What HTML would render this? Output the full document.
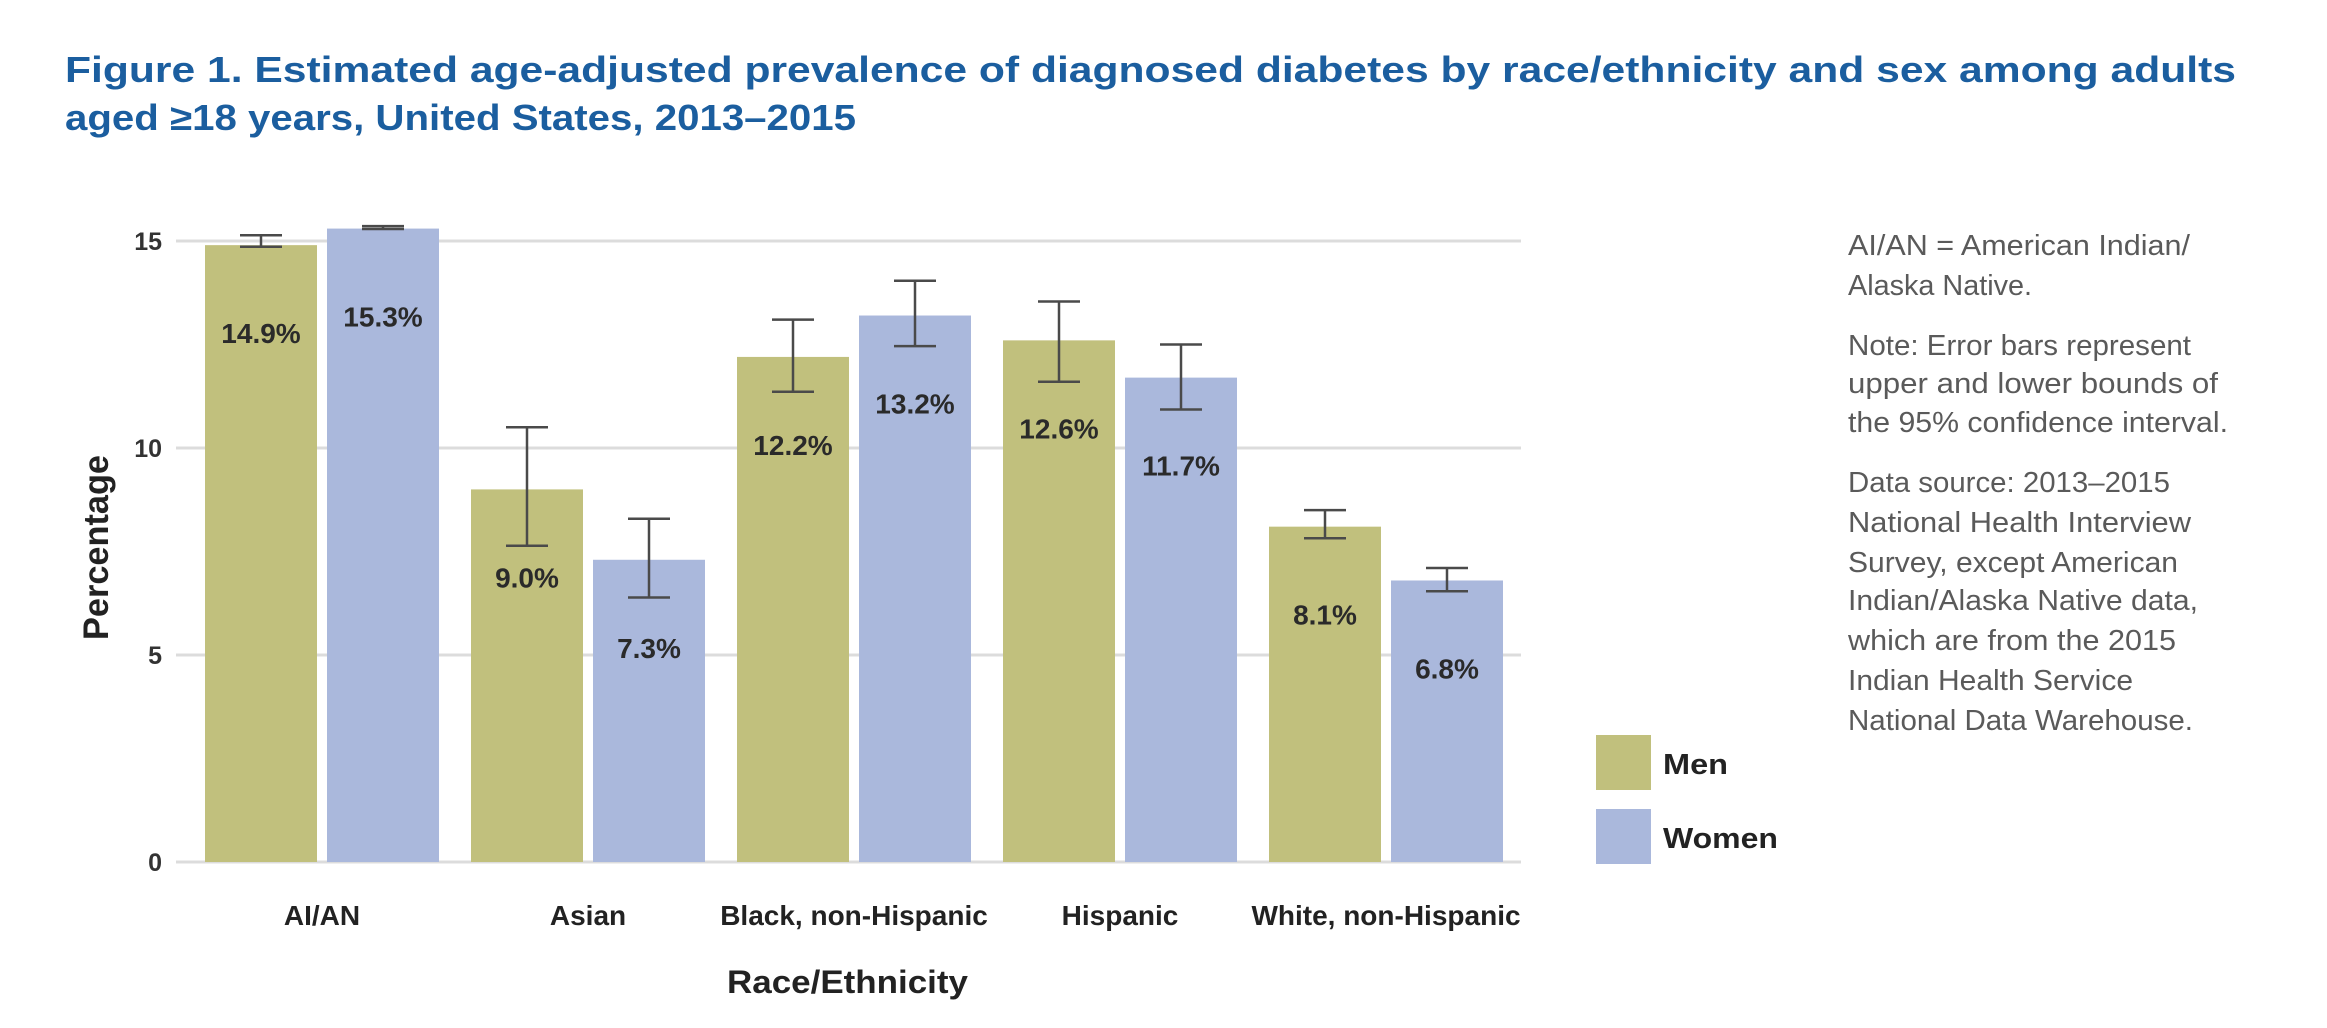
<!DOCTYPE html>
<html>
<head>
<meta charset="utf-8">
<style>
  html,body{margin:0;padding:0;background:#fff;}
  svg{display:block;}
  text{font-family:"Liberation Sans",sans-serif;}
</style>
</head>
<body>
<svg id="chart" width="2327" height="1028" viewBox="0 0 2327 1028" xmlns="http://www.w3.org/2000/svg">
  <g fill="#1b5e9f" font-weight="bold" font-size="36">
    <text x="65" y="82" textLength="2171" lengthAdjust="spacingAndGlyphs">Figure 1. Estimated age-adjusted prevalence of diagnosed diabetes by race/ethnicity and sex among adults</text>
    <text x="65" y="130" textLength="791" lengthAdjust="spacingAndGlyphs">aged ≥18 years, United States, 2013–2015</text>
  </g>
  <g id="grid"></g>
  <g id="yticks"></g>
  <g id="bars"></g>
  <g id="errs"></g>
  <g id="vlabels"></g>
  <g id="xlabels"></g>
  <text transform="translate(108,640) rotate(-90)" font-size="35" font-weight="bold" fill="#222" textLength="185" lengthAdjust="spacingAndGlyphs">Percentage</text>
  <text x="727" y="993" font-size="32" font-weight="bold" fill="#222" textLength="241" lengthAdjust="spacingAndGlyphs">Race/Ethnicity</text>
  <g>
    <rect x="1596" y="735" width="55" height="55" fill="#c1c07d"/>
    <text x="1663" y="774" font-size="29" font-weight="bold" fill="#222" textLength="65" lengthAdjust="spacingAndGlyphs">Men</text>
    <rect x="1596" y="809" width="55" height="55" fill="#aab8dc"/>
    <text x="1663" y="848" font-size="29" font-weight="bold" fill="#222" textLength="115" lengthAdjust="spacingAndGlyphs">Women</text>
  </g>
  <g font-size="29" fill="#5a5a5a">
    <text x="1848" y="255" textLength="342" lengthAdjust="spacingAndGlyphs">AI/AN = American Indian/</text>
    <text x="1848" y="295" textLength="184" lengthAdjust="spacingAndGlyphs">Alaska Native.</text>
    <text x="1848" y="355" textLength="343" lengthAdjust="spacingAndGlyphs">Note: Error bars represent</text>
    <text x="1848" y="393" textLength="370" lengthAdjust="spacingAndGlyphs">upper and lower bounds of</text>
    <text x="1848" y="432" textLength="380" lengthAdjust="spacingAndGlyphs">the 95% confidence interval.</text>
    <text x="1848" y="492" textLength="322" lengthAdjust="spacingAndGlyphs">Data source: 2013–2015</text>
    <text x="1848" y="532" textLength="343" lengthAdjust="spacingAndGlyphs">National Health Interview</text>
    <text x="1848" y="572" textLength="330" lengthAdjust="spacingAndGlyphs">Survey, except American</text>
    <text x="1848" y="610" textLength="350" lengthAdjust="spacingAndGlyphs">Indian/Alaska Native data,</text>
    <text x="1848" y="650" textLength="328" lengthAdjust="spacingAndGlyphs">which are from the 2015</text>
    <text x="1848" y="690" textLength="285" lengthAdjust="spacingAndGlyphs">Indian Health Service</text>
    <text x="1848" y="730" textLength="345" lengthAdjust="spacingAndGlyphs">National Data Warehouse.</text>
  </g>
</svg>
<script>
const categories = ["AI/AN", "Asian", "Black, non-Hispanic", "Hispanic", "White, non-Hispanic"];
const menValues = [14.9, 9.0, 12.2, 12.6, 8.1];
const womenValues = [15.3, 7.3, 13.2, 11.7, 6.8];
const menUpper = [15.14, 10.5, 13.1, 13.54, 8.5];
const menLower = [14.86, 7.64, 11.36, 11.6, 7.82];
const womenUpper = [15.36, 8.29, 14.04, 12.5, 7.1];
const womenLower = [15.29, 6.39, 12.46, 10.93, 6.54];
const yTicks = [0, 5, 10, 15];

const NS = "http://www.w3.org/2000/svg";
const plotLeft = 176, plotRight = 1521;
const y0 = 862, pxPerUnit = (862 - 241) / 15;
const groupStart = 205, groupPitch = 266, barW = 112, barGap = 10;
function yScale(v){ return y0 - v * pxPerUnit; }
function xBar(i, s){ return groupStart + i * groupPitch + s * (barW + barGap); }
function mk(tag, attrs, parent){
  const el = document.createElementNS(NS, tag);
  for (const k in attrs) el.setAttribute(k, attrs[k]);
  parent.appendChild(el);
  return el;
}
const grid = document.getElementById('grid');
const yt = document.getElementById('yticks');
yTicks.forEach(t => {
  const ln = mk('line', {x1: plotLeft, x2: plotRight, y1: yScale(t), y2: yScale(t), stroke: '#dcdcdc', 'stroke-width': 3}, grid);
  
  
  const tx = mk('text', {x: 162, y: yScale(t) + 9, 'text-anchor': 'end', 'font-size': 25, 'font-weight': 'bold', fill: '#333'}, yt);
  tx.textContent = t;
  
  
});
const bars = document.getElementById('bars');
const errs = document.getElementById('errs');
const vl = document.getElementById('vlabels');
const xl = document.getElementById('xlabels');
const series = [
  {vals: menValues, up: menUpper, lo: menLower, color: '#c1c07d'},
  {vals: womenValues, up: womenUpper, lo: womenLower, color: '#aab8dc'}
];
categories.forEach((c, i) => {
  series.forEach((s, si) => {
    const x = xBar(i, si), v = s.vals[i];
    const r = mk('rect', {x: x, y: yScale(v), width: barW, height: y0 - yScale(v), fill: s.color}, bars);
    
    
    const cx = x + barW / 2;
    const g = mk('g', {stroke: '#4a4a4a', 'stroke-width': 2.5}, errs);
    
    
    mk('line', {x1: cx, x2: cx, y1: yScale(s.up[i]), y2: yScale(s.lo[i])}, g);
    mk('line', {x1: cx - 21, x2: cx + 21, y1: yScale(s.up[i]), y2: yScale(s.up[i])}, g);
    mk('line', {x1: cx - 21, x2: cx + 21, y1: yScale(s.lo[i]), y2: yScale(s.lo[i])}, g);
    const t = mk('text', {x: cx, y: yScale(v) + 98, 'text-anchor': 'middle', 'font-size': 28, 'font-weight': 'bold', fill: '#2a2a2a'}, vl);
    t.textContent = v.toFixed(1) + '%';
    
    
  });
  const lx = groupStart + i * groupPitch + barW + barGap / 2;
  const ct = mk('text', {x: lx, y: 925, 'text-anchor': 'middle', 'font-size': 28, 'font-weight': 'bold', fill: '#222'}, xl);
  ct.textContent = c;
  
  
});
</script>
</body>
</html>
